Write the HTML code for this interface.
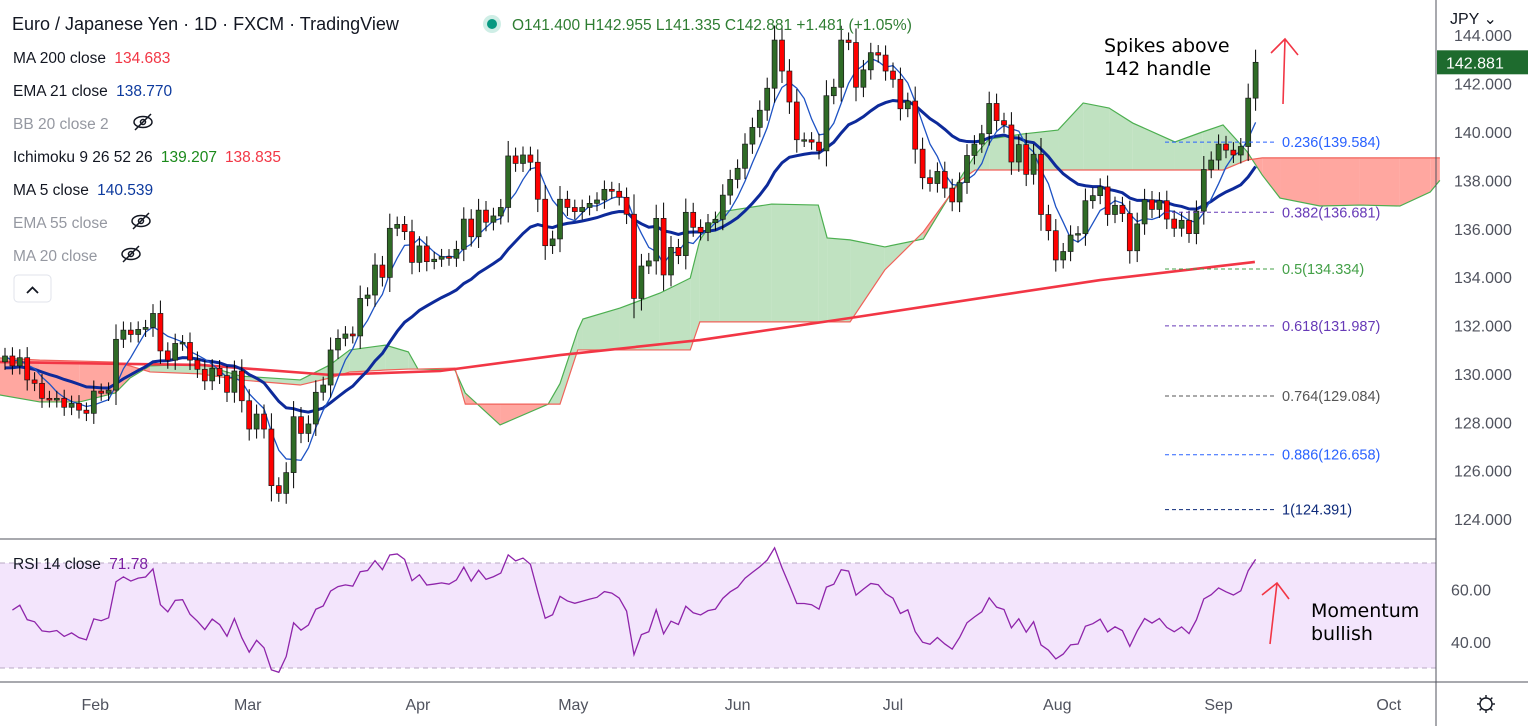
<!DOCTYPE html>
<html><head><meta charset="utf-8"><style>
body{margin:0;background:#fff;width:1528px;height:726px;overflow:hidden;font-family:"Liberation Sans",sans-serif;}
svg{position:absolute;left:0;top:0}
</style></head><body>
<svg id="chart" width="1528" height="726" xmlns="http://www.w3.org/2000/svg">
<g id="rsi-band"></g>
<g id="cloud"></g>
<g id="lines"></g>
<g id="candles"></g>
<g id="fib"></g>
<g id="axes"></g>
<g id="legend" font-family="Liberation Sans, sans-serif">
<text x="12" y="30" font-size="18" fill="#131722">Euro / Japanese Yen · 1D · FXCM · TradingView</text>
<circle cx="492" cy="24" r="9" fill="#cfeee6"/>
<circle cx="492" cy="24" r="5" fill="#089981"/>
<text x="512" y="30" font-size="15.5" fill="#2e7d32">O141.400 H142.955 L141.335 C142.881 +1.481 (+1.05%)</text>
<text x="13" y="63" font-size="15.5" fill="#131722">MA 200 close <tspan fill="#f23645" dx="4">134.683</tspan></text>
<text x="13" y="96" font-size="15.5" fill="#131722">EMA 21 close <tspan fill="#0d3a9e" dx="4">138.770</tspan></text>
<text x="13" y="129" font-size="15.5" fill="#9598a1">BB 20 close 2</text>
<text x="13" y="162" font-size="15.5" fill="#131722">Ichimoku 9 26 52 26 <tspan fill="#1b8a1b" dx="4">139.207</tspan><tspan fill="#f23645" dx="8">138.835</tspan></text>
<text x="13" y="195" font-size="15.5" fill="#131722">MA 5 close <tspan fill="#0d3a9e" dx="4">140.539</tspan></text>
<text x="13" y="228" font-size="15.5" fill="#9598a1">EMA 55 close</text>
<text x="13" y="261" font-size="15.5" fill="#9598a1">MA 20 close</text>
<g fill="none" stroke="#131722" stroke-width="1.5">
<g transform="translate(143,122)"><ellipse cx="0" cy="0" rx="9" ry="5.5"/><circle r="2.5"/><line x1="-8" y1="8" x2="8" y2="-8"/></g>
<g transform="translate(141,221)"><ellipse cx="0" cy="0" rx="9" ry="5.5"/><circle r="2.5"/><line x1="-8" y1="8" x2="8" y2="-8"/></g>
<g transform="translate(131,254)"><ellipse cx="0" cy="0" rx="9" ry="5.5"/><circle r="2.5"/><line x1="-8" y1="8" x2="8" y2="-8"/></g>
</g>
<rect x="14" y="275" width="37" height="27" rx="4" fill="#fff" stroke="#e0e3eb"/>
<path d="M27 293 L32.5 287.5 L38 293" fill="none" stroke="#131722" stroke-width="1.8"/>
<text x="13" y="569" font-size="15.5" fill="#131722">RSI 14 close <tspan fill="#7b1fa2" dx="4">71.78</tspan></text>
</g>
<g id="notes" font-family="DejaVu Sans, sans-serif" font-size="19" fill="#000">
<text x="1104" y="52">Spikes above</text>
<text x="1104" y="75">142 handle</text>
<text x="1311" y="617">Momentum</text>
<text x="1311" y="640">bullish</text>
<g stroke="#f23645" stroke-width="1.6" fill="none">
<path d="M1283 104 L1285 39 M1271 53 L1285 39 L1298 55"/>
<path d="M1270 644 L1277 583 M1262 595 L1277 583 L1289 599"/>
</g></g>
</svg>
<script>
const closes=[130.74,130.33,130.67,129.75,129.61,128.99,128.92,128.99,128.62,128.78,128.5,128.37,129.29,129.2,129.33,131.43,131.81,131.63,131.84,131.92,132.5,130.95,130.57,131.26,131.3,130.57,130.19,129.71,130.23,129.93,129.24,130.12,128.89,127.72,128.34,127.72,125.38,125.06,125.92,128.23,127.54,127.93,129.24,129.54,130.99,131.47,131.65,131.57,133.12,133.26,134.5,133.99,136.02,136.18,135.88,134.61,135.29,134.64,134.74,134.85,134.78,135.15,136.4,135.67,136.77,136.27,136.53,136.88,139.01,138.7,139.05,138.75,137.22,135.3,135.58,137.22,136.88,136.71,136.88,137.05,137.19,137.63,137.55,137.3,136.6,133.12,134.46,134.67,136.43,134.09,135.23,134.89,136.68,136.06,135.85,136.25,136.39,137.39,138.04,138.5,139.5,140.19,140.9,141.81,143.8,142.52,141.24,139.68,139.68,139.58,139.22,141.5,141.85,143.8,143.7,141.85,142.57,143.28,143.18,142.52,142.18,140.96,141.28,139.29,138.11,137.87,138.37,137.68,137.11,137.91,139.03,139.5,139.93,141.18,140.47,140.29,138.76,139.48,138.25,139.08,136.59,135.92,134.71,135.06,135.74,135.8,137.16,137.37,137.73,136.59,136.97,136.63,135.09,136.2,137.2,136.8,137.16,136.4,136.02,136.35,135.8,136.73,138.45,138.84,139.5,139.25,139.05,139.4,141.4,142.881];
const firstOpen=130.5;
const cloudBars=[-0.7,4.7,10.1,14.9,16.9,19.6,26.4,31.8,39.9,43.9,46.6,51.4,54.5,55.8,60.8,62.2,66.9,73.4,75,77.4,78.1,83.1,88.5,92.6,93.9,96.6,103.6,109.9,111.1,114.2,118.9,124.1,129.2,131.1,133,137.6,142.3,145.7,149.2,152.4,158.1,161.8,164.6,167.8,169.9,172.3,177.7,183.1,188.5,192.6,193.9];
const spanA=[129.13,128.84,128.84,129.21,129.83,130.33,130.41,129.91,129.75,130.37,130.99,131.19,130.91,130.2,130.16,129.21,127.89,128.75,129.6,131.8,132.27,132.72,133.34,133.96,135.54,136.69,137.02,136.98,135.62,135.54,135.25,135.58,138.14,139.05,139.71,139.92,140.08,141.2,140.99,140.37,139.59,140.0,140.29,139.21,138.22,137.27,136.94,136.98,136.94,137.52,138.0];
const spanB=[130.66,130.57,130.53,130.49,130.33,130.08,130.0,129.75,129.54,129.83,130.08,130.16,130.2,130.2,130.24,128.75,128.75,128.75,128.75,130.99,130.99,130.99,130.99,130.99,132.15,132.15,132.15,132.15,132.15,132.15,134.3,135.87,138.02,138.43,138.43,138.43,138.43,138.43,138.43,138.43,138.43,138.43,138.43,138.84,138.93,138.93,138.93,138.93,138.93,138.93,138.93];
const ma200Bars=[-0.7,26.4,43.9,58.8,75,93.9,114.2,134.5,148,168.9];
const ma200Vals=[130.49,130.37,129.96,130.12,130.78,131.4,132.31,133.26,133.88,134.63];
const priceTicks=[144,142,140,138,136,134,132,130,128,126,124];
const rsiTicks=[60,40];
const months=["Feb","Mar","Apr","May","Jun","Jul","Aug","Sep","Oct"];
const monthBars=[12.2,32.8,55.8,76.8,99,120,142.2,164,187];
const fibRatios=["0.236","0.382","0.5","0.618","0.764","0.886","1"];
const fibPrices=[139.584,136.681,134.334,131.987,129.084,126.658,124.391];
const fibColors=["#2962ff","#673ab7","#43a047","#673ab7","#555","#2962ff","#0d2a7a"];

const NS="http://www.w3.org/2000/svg";
const xOf=i=>5+7.4*i;
const yOf=p=>132+(140-p)*24.19;
const rY=v=>563+(70-v)*2.625;
function mk(tag,attrs,parent){const e=document.createElementNS(NS,tag);for(const k in attrs)e.setAttribute(k,attrs[k]);parent.appendChild(e);return e;}
const G=id=>document.getElementById(id);

const band=mk('rect',{x:0,y:rY(70),width:1436,height:rY(30)-rY(70),fill:'#f3e5fc'},G('rsi-band'));


[70,30].forEach(v=>{const l=mk('line',{x1:0,x2:1436,y1:rY(v),y2:rY(v),stroke:'#b9a9c4','stroke-dasharray':'5 4'},G('rsi-band'));

});

for(let k=0;k<cloudBars.length-1;k++){
  const x1=xOf(cloudBars[k]),x2=xOf(cloudBars[k+1]);
  const a1=spanA[k],a2=spanA[k+1],b1=spanB[k],b2=spanB[k+1];
  const green=(a1+a2)>=(b1+b2);
  const p=mk('polygon',{points:`${x1},${yOf(a1)} ${x2},${yOf(a2)} ${x2},${yOf(b2)} ${x1},${yOf(b1)}`,fill:green?'#a5d6a7':'#ff8a80','fill-opacity':green?0.7:0.75,stroke:'none'},G('cloud'));
  
  
}
const pA=cloudBars.map((b,i)=>`${xOf(b)},${yOf(spanA[i])}`).join(' ');
const pB=cloudBars.map((b,i)=>`${xOf(b)},${yOf(spanB[i])}`).join(' ');
const la=mk('polyline',{points:pA,fill:'none',stroke:'#4caf50','stroke-width':1.2},G('cloud'));


const lb=mk('polyline',{points:pB,fill:'none',stroke:'#f0625a','stroke-width':1.2},G('cloud'));



const ma5=closes.map((c,i)=>{const s=closes.slice(Math.max(0,i-4),i+1);return s.reduce((a,b)=>a+b,0)/s.length;});
const ema=[];let e=130.2;const k21=2/22;closes.forEach(c=>{e=c*k21+e*(1-k21);ema.push(e);});
const m2=mk('polyline',{points:ma200Bars.map((b,i)=>`${xOf(b)},${yOf(ma200Vals[i])}`).join(' '),fill:'none',stroke:'#f23645','stroke-width':2.6},G('lines'));


const l21=mk('polyline',{points:ema.map((v,i)=>`${xOf(i)},${yOf(v)}`).join(' '),fill:'none',stroke:'#0d2a9a','stroke-width':3},G('lines'));


const l5=mk('polyline',{points:ma5.map((v,i)=>`${xOf(i)},${yOf(v)}`).join(' '),fill:'none',stroke:'#1e53c4','stroke-width':1.3},G('lines'));



closes.forEach((c,i)=>{
  const o=i===0?firstOpen:closes[i-1];
  const up=c>=o,hi=Math.max(o,c)+0.3+Math.abs(c-o)*0.15,lo=Math.min(o,c)-0.3-Math.abs(c-o)*0.15;
  const x=xOf(i);
  const g=mk('g',{},G('candles'));
  
  
  mk('line',{x1:x,x2:x,y1:yOf(hi),y2:yOf(lo),stroke:'#000','stroke-width':1},g);
  const yt=yOf(Math.max(o,c)),h=Math.max(1.5,yOf(Math.min(o,c))-yt);
  mk('rect',{x:x-2.5,y:yt,width:5,height:h,fill:up?'#2f6b26':'#ff0000',stroke:'#1a1a1a','stroke-width':0.7},g);
});

let ag=0.36,al=0.3;const rsi=[];
for(let i=1;i<closes.length;i++){const d=closes[i]-closes[i-1];const gg=Math.max(d,0),ll=Math.max(-d,0);
 ag=(ag*13+gg)/14;al=(al*13+ll)/14;
 rsi.push([i,100-100/(1+ag/al)]);}
const rl=mk('polyline',{points:rsi.map(([i,v])=>`${xOf(i)},${rY(v)}`).join(' '),fill:'none',stroke:'#8e24aa','stroke-width':1.3},G('lines'));



fibRatios.forEach((r,i)=>{const y=yOf(fibPrices[i]);
 const l=mk('line',{x1:1165,x2:1275,y1:y,y2:y,stroke:fibColors[i],'stroke-dasharray':'4 3','stroke-width':1},G('fib'));
 
 
 const t=mk('text',{x:1282,y:y+5,'font-size':14.5,fill:fibColors[i],'font-family':'Liberation Sans, sans-serif'},G('fib'));
 t.textContent=r+'('+fibPrices[i].toFixed(3)+')';
 
 });

const ax=G('axes');
[['line',{x1:1436,x2:1436,y1:0,y2:726}],['line',{x1:0,x2:1436,y1:539,y2:539}],['line',{x1:0,x2:1528,y1:682,y2:682}]].forEach(([t,a])=>{const l=mk(t,Object.assign(a,{stroke:'#50535e','stroke-width':1}),ax);
 
 });
priceTicks.forEach(p=>{const t=mk('text',{x:1454,y:yOf(p)+6,'font-size':16,fill:'#50535e'},ax);t.textContent=p.toFixed(3);
 
 });
rsiTicks.forEach(v=>{const t=mk('text',{x:1451,y:rY(v)+6,'font-size':16,fill:'#50535e'},ax);t.textContent=v.toFixed(2);
 
 });
months.forEach((m,i)=>{const t=mk('text',{x:xOf(monthBars[i]),y:710,'font-size':16,fill:'#50535e','text-anchor':'middle'},ax);t.textContent=m;
 
 });
const last=closes[closes.length-1];
const tag=mk('rect',{x:1437,y:yOf(last)-12,width:91,height:24,fill:'#1e6b2e'},ax);


const tt=mk('text',{x:1446,y:yOf(last)+6,'font-size':16,fill:'#fff'},ax);tt.textContent=last.toFixed(3);


const cur=mk('text',{x:1450,y:24,'font-size':16,fill:'#131722'},ax);cur.textContent='JPY ⌄';


const gear=mk('g',{transform:'translate(1486,704)',fill:'none',stroke:'#131722','stroke-width':1.4},ax);


mk('circle',{r:6},gear);
for(let a=0;a<8;a++){const r=a*Math.PI/4;mk('line',{x1:6*Math.cos(r),y1:6*Math.sin(r),x2:9*Math.cos(r),y2:9*Math.sin(r)},gear);}
</script>
</body></html>
